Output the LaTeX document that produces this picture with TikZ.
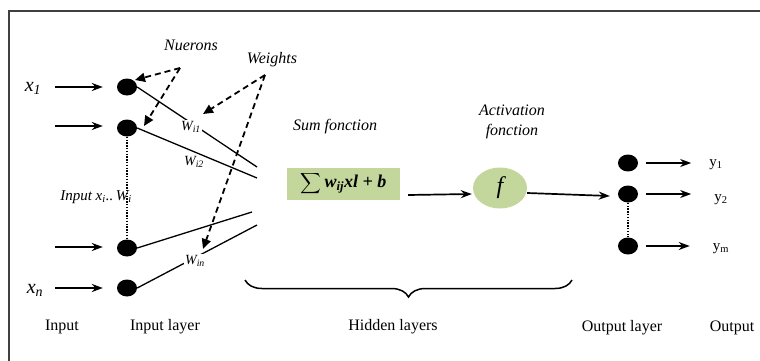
\documentclass[tikz,border=0pt]{standalone}
\usepackage{amsmath}
\usepackage{fontspec}
\setmainfont{Liberation Serif}
\usetikzlibrary{shapes.geometric,arrows.meta,decorations.pathreplacing}
\definecolor{boxgreen}{HTML}{C3D69B}
\begin{document}
\begin{tikzpicture}[x=1pt,y=-1pt,
 neuron/.style={ellipse,fill=black,minimum width=20pt,minimum height=17pt,inner sep=0pt},
 arr/.style={-{Stealth[length=11pt,width=8pt]},line width=1.7pt},
 darr/.style={line width=1.8pt,dash pattern=on 6pt off 4pt,-{Triangle[length=10pt,width=9pt]}},
 wire/.style={line width=1.3pt},
 dots/.style={line width=2.4pt,dash pattern=on 1.4pt off 1.4pt},
 lbl/.style={font=\fontsize{16}{18}\selectfont,inner sep=0pt},
 ilbl/.style={font=\fontsize{16}{18}\selectfont\itshape,inner sep=0pt},
 wlbl/.style={font=\fontsize{14}{16}\selectfont\itshape,fill=white,inner sep=1pt},
 xlbl/.style={font=\fontsize{20}{22}\selectfont\itshape,inner sep=0pt},
 ylbl/.style={font=\fontsize{15}{17}\selectfont,inner sep=0pt},
 greenbox/.style={fill=boxgreen,minimum width=113pt,minimum height=32pt,inner sep=0pt}
]
\useasboundingbox (0,0) rectangle (760,361);
\draw[line width=1.6pt,black!75] (9,361) -- (9,11) -- (760,11);

% input neurons
\node[neuron] (n1) at (127,87) {};
\node[neuron] (n2) at (127,128) {};
\node[neuron] (n3) at (127,248) {};
\node[neuron] (n4) at (127,288) {};

% inputs
\coordinate (a1) at (55,87);
\coordinate (a2) at (55,126);
\coordinate (a3) at (55,247);
\coordinate (a4) at (55,288);
\draw[arr,shorten >=14pt] (a1) -- (n1.west |- a1);
\draw[arr,shorten >=14pt] (a2) -- (n2.west |- a2);
\draw[arr,shorten >=14pt] (a3) -- (n3.west |- a3);
\draw[arr,shorten >=14pt] (a4) -- (n4.west |- a4);
\node[xlbl] (x1) at (33,88) {x\textsubscript{\itshape 1}};
\node[xlbl] (xn) at (35,290) {x\textsubscript{\itshape n}};

\draw[dots] (n2.south) -- (n3.north);
\node[ilbl,font=\fontsize{15}{17}\selectfont\itshape] (inx) at (96,197) {Input x\textsubscript{i}..\,W\textsubscript{i}};

% weighted wires
\coordinate (w1) at (257,167);
\coordinate (w2) at (257,178);
\coordinate (w3) at (252,212);
\coordinate (w4) at (257,225);
\draw[wire] (n1.east) -- (w1);
\draw[wire] (n2.east) -- (w2);
\draw[wire] (n3.east) -- (w3);
\draw[wire] (n4.east) -- (w4);
\node[wlbl] (wi1) at (191,127) {W\textsubscript{i1}};
\node[wlbl,fill=none] (wi2) at (194,162) {W\textsubscript{i2}};
\node[wlbl] (win) at (195,261) {W\textsubscript{in}};

% annotations
\node[ilbl] (nue) at (191,45) {Nuerons};
\node[ilbl] (wei) at (272,60) {Weights};
\coordinate (nap) at (180,68);
\coordinate (wap) at (265,75);
\coordinate (t1) at (135,80);
\coordinate (t2) at (144,126);
\coordinate (t3) at (203,114);
\coordinate (t4) at (203,249);
\draw[darr] (nap) -- (t1);
\draw[darr] (nap) -- (t2);
\draw[darr] (wap) -- (t3);
\draw[darr] (wap) -- (t4);

% hidden layer
\node[ilbl] (sumf) at (335,127) {Sum fonction};
\node[ilbl,align=center,font=\fontsize{16}{20}\selectfont\itshape] (actf) at (512,122) {Activation\\fonction};
\node[greenbox,font=\fontsize{18}{20}\selectfont] (sum) at (343.5,184) {{\fontsize{15}{17}\selectfont$\displaystyle\sum$}\,\bfseries\itshape w\textsubscript{ij}xl + b};
\node[ellipse,fill=boxgreen,minimum width=54pt,minimum height=41pt,inner sep=0pt,font=\fontsize{24}{26}\selectfont\itshape] (f) at (500,188) {f};
\draw[arr] ([xshift=8pt,yshift=-11pt]sum.east) -- ([xshift=-1pt,yshift=-6pt]f.west);

% output neurons
\node[neuron] (o1) at (628,163) {};
\node[neuron] (o2) at (628,194) {};
\node[neuron] (o3) at (628,246) {};
\draw[arr] ([yshift=-5pt]f.east) -- ([xshift=-8pt,yshift=-2pt]o2.west);
\draw[dots] (o2.south) -- (o3.north);
\node[ylbl] (y1) at (716,165) {y\textsubscript{1}};
\node[ylbl] (y2) at (721,200) {y\textsubscript{2}};
\node[ylbl] (ym) at (721,249) {y\textsubscript{m}};
\draw[arr,shorten <=8pt] (o1.east) -- ([xshift=-18pt]y1.west |- o1);
\draw[arr,shorten <=8pt] (o2.east) -- ([xshift=-23pt]y2.west |- o2);
\draw[arr,shorten <=8pt] (o3.east) -- ([xshift=-23pt]ym.west |- o3);

% brace
\coordinate (b1) at (245,280);
\coordinate (b2) at (572,280);
\draw[line width=1.5pt,decorate,decoration={brace,mirror,amplitude=17pt}] (b1) -- (b2);

% bottom labels
\node[lbl] (lin) at (62,327) {Input};
\node[lbl] (lil) at (165,327) {Input layer};
\node[lbl] (lhl) at (393,327) {Hidden layers};
\node[lbl] (lol) at (622,328) {Output layer};
\node[lbl] (lo) at (732,328) {Output};
\end{tikzpicture}
\end{document}
